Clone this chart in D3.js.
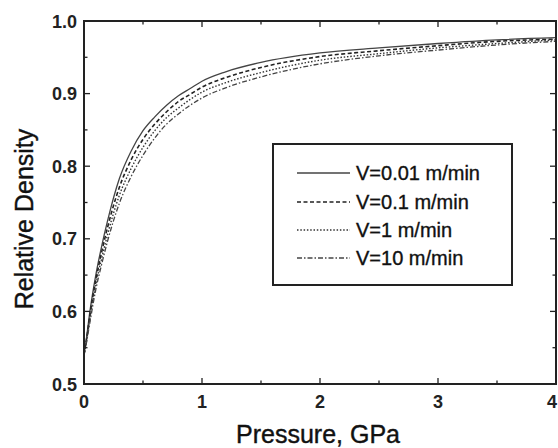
<!DOCTYPE html>
<html>
<head>
<meta charset="utf-8">
<script src="https://cdn.jsdelivr.net/npm/d3@7"></script>
<style>
  body { margin: 0; background: #fff; }
  svg { display: block; font-family: "Liberation Sans", Arial, sans-serif; }
</style>
</head>
<body>
<div id="chart"></div>
<script>
// --- Data ---
const pressure = [0, 0.02, 0.05, 0.1, 0.15, 0.2, 0.3, 0.4, 0.5, 0.6, 0.7, 0.8, 0.9, 1.0, 1.2, 1.5, 2.0, 2.5, 3.0, 3.5, 4.0];
const densV001 = [0.540, 0.562, 0.600, 0.650, 0.690, 0.725, 0.783, 0.821, 0.849, 0.868, 0.884, 0.897, 0.907, 0.917, 0.930, 0.943, 0.956, 0.963, 0.969, 0.974, 0.977];
const densV01  = [0.540, 0.560, 0.595, 0.643, 0.682, 0.716, 0.771, 0.809, 0.837, 0.858, 0.875, 0.889, 0.899, 0.909, 0.922, 0.936, 0.951, 0.959, 0.966, 0.972, 0.975];
const densV1   = [0.540, 0.558, 0.590, 0.637, 0.673, 0.706, 0.760, 0.797, 0.826, 0.849, 0.867, 0.880, 0.892, 0.902, 0.915, 0.929, 0.946, 0.955, 0.963, 0.969, 0.974];
const densV10  = [0.540, 0.556, 0.585, 0.630, 0.665, 0.697, 0.749, 0.786, 0.815, 0.839, 0.858, 0.872, 0.884, 0.894, 0.908, 0.923, 0.941, 0.952, 0.960, 0.967, 0.972];
const seriesNames = ["V=0.01 m/min", "V=0.1 m/min", "V=1 m/min", "V=10 m/min"];
const xTicks = [0, 1, 2, 3, 4];
const yTicks = [0.5, 0.6, 0.7, 0.8, 0.9, 1.0];

// --- Layout ---
const width = 558, height = 448;
const margin = { left: 84, right: 2, top: 21, bottom: 64 };
const innerW = width - margin.left - margin.right;
const innerH = height - margin.top - margin.bottom;

const svg = d3.select("#chart").append("svg")
  .attr("width", width)
  .attr("height", height);

const x = d3.scaleLinear().domain([0, 4]).range([margin.left, margin.left + innerW]);
const y = d3.scaleLinear().domain([0.5, 1.0]).range([margin.top + innerH, margin.top]);

// --- Curves ---
const dashes = [null, "4,2.5", "1.5,1.8", "5,2,1.5,2"];
const widths = [1.3, 1.6, 1.4, 1.3];
const strokes = ["#444", "#222", "#333", "#444"];
const allSeries = [densV001, densV01, densV1, densV10];

const line = d3.line()
  .x(d => x(d[0]))
  .y(d => y(d[1]))
  .curve(d3.curveMonotoneX);

const plot = svg.append("g");
allSeries.forEach((vals, i) => {
  plot.append("path")
    .datum(pressure.map((p, j) => [p, vals[j]]))
    .attr("fill", "none")
    .attr("stroke", strokes[i])
    .attr("stroke-width", widths[i])
    .attr("stroke-dasharray", dashes[i])
    .attr("d", line);
});

// --- Frame & ticks (inward, all four sides) ---
const x0 = x(0), x1 = x(4), y0 = y(0.5), y1 = y(1.0);

const xMinor = d3.range(0.5, 4, 1);
const yMinor = d3.range(0.55, 1.0, 0.1);
const tickG = svg.append("g").attr("stroke", "#222").attr("stroke-width", 1.3);

xTicks.concat(xMinor).forEach(v => {
  const len = xTicks.includes(v) ? 6 : 3.5;
  tickG.append("line").attr("x1", x(v)).attr("x2", x(v)).attr("y1", y0).attr("y2", y0 - len);
  tickG.append("line").attr("x1", x(v)).attr("x2", x(v)).attr("y1", y1).attr("y2", y1 + len);
});
yTicks.concat(yMinor).forEach(v => {
  const major = yTicks.some(t => Math.abs(t - v) < 1e-6);
  const len = major ? 6 : 3.5;
  tickG.append("line").attr("x1", x0).attr("x2", x0 + len).attr("y1", y(v)).attr("y2", y(v));
  tickG.append("line").attr("x1", x1).attr("x2", x1 - len).attr("y1", y(v)).attr("y2", y(v));
});

svg.append("rect")
  .attr("x", x0).attr("y", y1)
  .attr("width", x1 - x0).attr("height", y0 - y1)
  .attr("fill", "none")
  .attr("stroke", "#222")
  .attr("stroke-width", 2);

// --- Tick labels ---
svg.append("g").selectAll("text")
  .data(xTicks)
  .join("text")
  .attr("x", d => Math.min(x(d), width - 6))
  .attr("y", y0 + 24)
  .attr("text-anchor", "middle")
  .attr("font-size", 18)
  .attr("font-weight", "bold")
  .attr("fill", "#222")
  .text(d => d3.format("d")(d));

svg.append("g").selectAll("text")
  .data(yTicks)
  .join("text")
  .attr("x", x0 - 7)
  .attr("y", d => y(d) + 6.5)
  .attr("text-anchor", "end")
  .attr("font-size", 18)
  .attr("font-weight", "bold")
  .attr("fill", "#222")
  .text(d => d3.format(".1f")(d));

// --- Axis titles ---
svg.append("text")
  .attr("x", 318)
  .attr("y", 443)
  .attr("text-anchor", "middle")
  .attr("font-size", 25)
  .attr("fill", "#111")
  .attr("stroke", "#111")
  .attr("stroke-width", 0.4)
  .text("Pressure, GPa");

svg.append("text")
  .attr("transform", "translate(33," + 219 + ") rotate(-90)")
  .attr("text-anchor", "middle")
  .attr("font-size", 25)
  .attr("fill", "#111")
  .attr("stroke", "#111")
  .attr("stroke-width", 0.4)
  .text("Relative Density");

// --- Legend ---
const legend = svg.append("g");
legend.append("rect")
  .attr("x", 273).attr("y", 144)
  .attr("width", 239).attr("height", 141)
  .attr("fill", "#fff")
  .attr("stroke", "#222")
  .attr("stroke-width", 2);

const rowY = [173, 202, 230, 258];
seriesNames.forEach((name, i) => {
  legend.append("line")
    .attr("x1", 297).attr("x2", 350)
    .attr("y1", rowY[i]).attr("y2", rowY[i])
    .attr("stroke", strokes[i])
    .attr("stroke-width", widths[i])
    .attr("stroke-dasharray", dashes[i]);
  legend.append("text")
    .attr("x", 356)
    .attr("y", rowY[i] + 7)
    .attr("font-size", 20)
    .attr("fill", "#111")
    .attr("stroke", "#111")
    .attr("stroke-width", 0.35)
    .text(name);
});
</script>
</body>
</html>
